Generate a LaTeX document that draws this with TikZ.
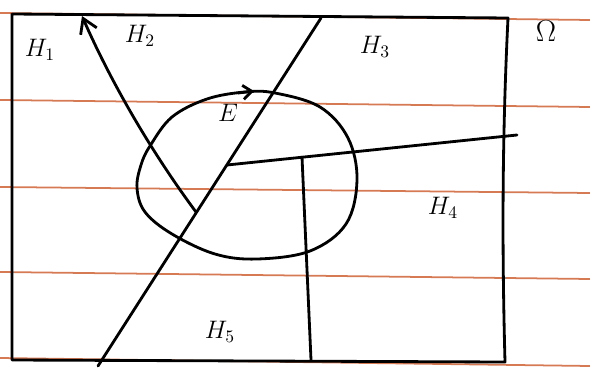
\documentclass[tikz,border=0pt]{standalone}
\usetikzlibrary{arrows.meta}
\definecolor{ruling}{RGB}{214,122,84}
\tikzset{pen/.style={line width=1.6pt, line cap=round, line join=round},
  ruleline/.style={ruling, line width=1pt},
  lbl/.style={font=\Large}}

\begin{document}
\begin{tikzpicture}[x=0.02cm, y=-0.02cm]
    \useasboundingbox (0,0) rectangle (590,368);
    \foreach \a/\b in {13/20, 100/107, 187/193, 272/279, 358/366}
      \draw[ruleline] (0,\a) -- (590,\b);
    \coordinate (v1) at (12,14);
    \coordinate (v2) at (508,18);
    \coordinate (v3) at (505,362);
    \coordinate (v4) at (12,360);
    \draw[pen] (v1) -- (v2) .. controls (502,140) and (502,250) .. (v3) -- (v4) -- cycle;
    \coordinate (v5) at (98,366);
    \coordinate (v6) at (321,18);
    \draw[pen] (v5) -- (v6);
    \coordinate (v7) at (227,165);
    \coordinate (v8) at (517,135);
    \draw[pen] (v7) -- (v8);
    \coordinate (v9) at (302,157);
    \coordinate (v10) at (311,360);
    \draw[pen] (v9) -- (v10);
    \coordinate (v11) at (196,212);
    \coordinate (v12) at (82,16);
    \draw[pen, -{Straight Barb[length=8pt, width=10pt]}] (v11) .. controls (150,150) and (110,80) .. (v12);
    \draw[pen] plot[smooth cycle, tension=0.6] coordinates {(150,146) (172,117) (207,99) (245,92) (275,93) (320,107) (348,138) (357,180) (346,224) (310,251) (257,259) (215,254) (172,234) (145,212) (137,188) (141,165)};
    \draw[pen, -{Straight Barb[length=5pt, width=8pt]}] (238,93) -- (254,91);
    \node[lbl] (h1) at (40,50) {$H_1$};
    \node[lbl] (h2) at (140,36) {$H_2$};
    \node[lbl] (h3) at (375,47) {$H_3$};
    \node[lbl] (h4) at (443,208) {$H_4$};
    \node[lbl] (h5) at (220,332) {$H_5$};
    \node[lbl] (e) at (228,113) {$E$};
    \node[font=\LARGE] (omega) at (546,31) {$\Omega$};
  \end{tikzpicture}
\end{document}
